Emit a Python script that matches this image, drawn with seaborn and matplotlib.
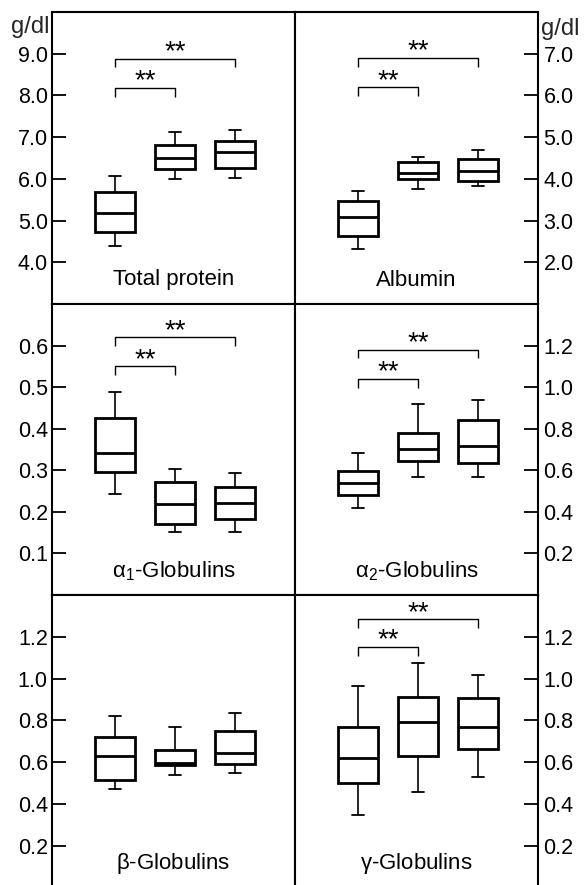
import matplotlib
matplotlib.use("Agg")
import matplotlib.pyplot as plt
import numpy as np
import pandas as pd
import seaborn as sns

# ---------------- data ----------------
groups = ["G1", "G2", "G3"]

# five-number summaries per group: [min, Q1, median, Q3, max]
total_protein = [[4.40, 4.73, 5.19, 5.68, 6.07],
                 [6.00, 6.24, 6.51, 6.80, 7.12],
                 [6.03, 6.27, 6.65, 6.91, 7.16]]
albumin = [[2.33, 2.62, 3.08, 3.46, 3.70],
           [3.76, 4.00, 4.15, 4.41, 4.53],
           [3.84, 3.96, 4.20, 4.48, 4.69]]
alpha1 = [[0.243, 0.295, 0.341, 0.425, 0.489],
          [0.152, 0.170, 0.218, 0.273, 0.303],
          [0.152, 0.182, 0.221, 0.260, 0.293]]
alpha2 = [[0.418, 0.483, 0.540, 0.598, 0.685],
          [0.566, 0.647, 0.702, 0.780, 0.920],
          [0.566, 0.637, 0.715, 0.844, 0.936]]
beta = [[0.470, 0.514, 0.629, 0.722, 0.822],
        [0.538, 0.586, 0.597, 0.658, 0.769],
        [0.546, 0.591, 0.645, 0.749, 0.836]]
gamma = [[0.347, 0.498, 0.621, 0.766, 0.964],
         [0.458, 0.629, 0.790, 0.913, 1.076],
         [0.527, 0.663, 0.767, 0.905, 1.017]]

panel_titles = ["Total protein", "Albumin",
                r"$\mathregular{\alpha_1}$-Globulins", r"$\mathregular{\alpha_2}$-Globulins",
                r"$\mathregular{\beta}$-Globulins", r"$\mathregular{\gamma}$-Globulins"]
panel_data = [total_protein, albumin, alpha1, alpha2, beta, gamma]

yticks_tp = [4.0, 5.0, 6.0, 7.0, 8.0, 9.0]
yticks_alb = [2.0, 3.0, 4.0, 5.0, 6.0, 7.0]
yticks_a1 = [0.1, 0.2, 0.3, 0.4, 0.5, 0.6]
yticks_a2 = [0.2, 0.4, 0.6, 0.8, 1.0, 1.2]
yticks_b = [0.2, 0.4, 0.6, 0.8, 1.0, 1.2]
yticks_g = [0.2, 0.4, 0.6, 0.8, 1.0, 1.2]
panel_yticks = [yticks_tp, yticks_alb, yticks_a1, yticks_a2, yticks_b, yticks_g]
panel_ylims = [(3.0, 10.0), (1.0, 8.0), (0.0, 0.70), (0.0, 1.40), (0.0, 1.40), (0.0, 1.40)]

# significance brackets: (group from, group to, level)
brackets_tp = [(0, 1, 8.18), (0, 2, 8.88)]
brackets_alb = [(0, 1, 6.20), (0, 2, 6.90)]
brackets_a1 = [(0, 1, 0.550), (0, 2, 0.620)]
brackets_a2 = [(0, 1, 1.040), (0, 2, 1.181)]
brackets_b = []
brackets_g = [(0, 1, 1.152), (0, 2, 1.283)]
panel_brackets = [brackets_tp, brackets_alb, brackets_a1, brackets_a2, brackets_b, brackets_g]
sig_label = "**"
unit_label = "g/dl"

# ---------------- style ----------------
sns.set_theme(style="white")
plt.rcParams["font.family"] = ["Liberation Sans", "DejaVu Sans"]
plt.rcParams["mathtext.fontset"] = "custom"
plt.rcParams["mathtext.rm"] = "Liberation Sans"
plt.rcParams["mathtext.it"] = "Liberation Sans:italic"

W, H = 584, 885
fig = plt.figure(figsize=(W / 100, H / 100), dpi=100)
fig.patch.set_facecolor("white")

col_px = [(52, 295), (295, 538)]
row_px = [(12, 304), (304, 595), (595, 887.5)]

for i in range(6):
    r, c = divmod(i, 2)
    x0, x1 = col_px[c]
    y0, y1 = row_px[r]
    ax = fig.add_axes([x0 / W, 1 - y1 / H, (x1 - x0) / W, (y1 - y0) / H])
    ax.set_facecolor("white")

    rows = []
    for g, summ in zip(groups, panel_data[i]):
        for v in summ:
            rows.append({"group": g, "value": v})
    df = pd.DataFrame(rows)

    sns.boxplot(data=df, x="group", y="value", order=groups, ax=ax,
                whis=(0, 100), width=0.68, color="white", linecolor="black",
                linewidth=2.0, showfliers=False, capwidths=0.2,
                whiskerprops=dict(linewidth=1.2), capprops=dict(linewidth=1.3),
                medianprops=dict(linewidth=2.0))

    ymin, ymax = panel_ylims[i]
    ax.set_xlim(-1.05, 3.0)
    ax.set_ylim(ymin, ymax)
    ax.set_xlabel("")
    ax.set_ylabel("")
    ax.set_xticks([])
    ax.set_yticks(panel_yticks[i])
    ax.set_yticklabels([f"{t:.1f}" for t in panel_yticks[i]])

    for s in ax.spines.values():
        s.set_color("black")
        s.set_linewidth(1.5)
        s.set_visible(True)
    if r == 2:
        ax.spines["bottom"].set_visible(False)

    if c == 0:
        ax.tick_params(axis="y", direction="in", length=10, width=1.3,
                       labelsize=15.5, pad=3, left=True, right=False,
                       labelleft=True, labelright=False, colors="black")
    else:
        ax.yaxis.tick_right()
        ax.tick_params(axis="y", direction="in", length=10, width=1.3,
                       labelsize=15.5, pad=4, left=False, right=True,
                       labelleft=False, labelright=True, colors="black")

    drop = 0.03 * (ymax - ymin)
    for (a, b, lev) in panel_brackets[i]:
        ax.plot([a, a, b, b], [lev - drop, lev, lev, lev - drop],
                color="black", linewidth=1.0, solid_capstyle="butt")
        ax.annotate(sig_label, xy=((a + b) / 2, lev), xytext=(0, -0.5),
                    textcoords="offset points", ha="center", va="baseline",
                    fontsize=20, color="black")

    ax.text(0.5, 24 / (y1 - y0), panel_titles[i], transform=ax.transAxes,
            ha="center", va="center", fontsize=16, color="black")

fig.text(50 / W, 1 - 27 / H, unit_label, ha="right", va="center", fontsize=17)
fig.text(541 / W, 1 - 29 / H, unit_label, ha="left", va="center", fontsize=17)

fig.savefig("out.png", dpi=100, facecolor="white")
